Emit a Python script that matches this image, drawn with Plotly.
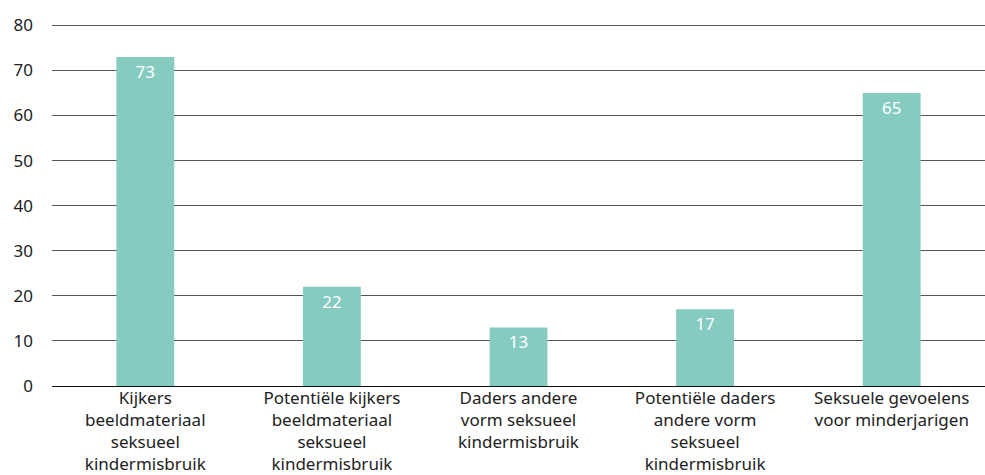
import plotly.graph_objects as go

categories = [
    "Kijkers<br>beeldmateriaal<br>seksueel<br>kindermisbruik",
    "Potentiële kijkers<br>beeldmateriaal<br>seksueel<br>kindermisbruik",
    "Daders andere<br>vorm seksueel<br>kindermisbruik",
    "Potentiële daders<br>andere vorm<br>seksueel<br>kindermisbruik",
    "Seksuele gevoelens<br>voor minderjarigen",
]
values = [73, 22, 13, 17, 65]
y_ticks = [0, 10, 20, 30, 40, 50, 60, 70, 80]

FONT = "Noto Sans, Open Sans, sans-serif"

fig = go.Figure(
    go.Bar(
        x=categories,
        y=values,
        marker=dict(color="#86cbbf", line=dict(width=0)),
        text=[str(v) for v in values],
        textposition="inside",
        insidetextanchor="end",
        textfont=dict(color="white", size=17, family=FONT),
        cliponaxis=False,
    )
)

fig.update_layout(
    width=985,
    height=475,
    margin=dict(l=52, r=0, t=24, b=89),
    plot_bgcolor="white",
    paper_bgcolor="white",
    bargap=0.69,
    showlegend=False,
    font=dict(family=FONT, size=16, color="#222222"),
    xaxis=dict(
        showgrid=False,
        showline=False,
        ticks="",
        automargin=False,
        tickfont=dict(size=17, color="#222222", family=FONT),
        tickangle=0,
    ),
    yaxis=dict(
        range=[0, 80.3],
        tickvals=y_ticks,
        showgrid=True,
        gridcolor="#555555",
        gridwidth=1,
        zeroline=True,
        zerolinecolor="#111111",
        zerolinewidth=1,
        showline=False,
        ticks="",
        automargin=False,
        ticklabelstandoff=18,
        tickfont=dict(size=17, color="#222222", family=FONT),
    ),
)

fig.write_html(
    "out.html",
    config={"displayModeBar": False},
    post_script="document.body.style.margin='0';document.body.style.overflow='hidden';",
)
